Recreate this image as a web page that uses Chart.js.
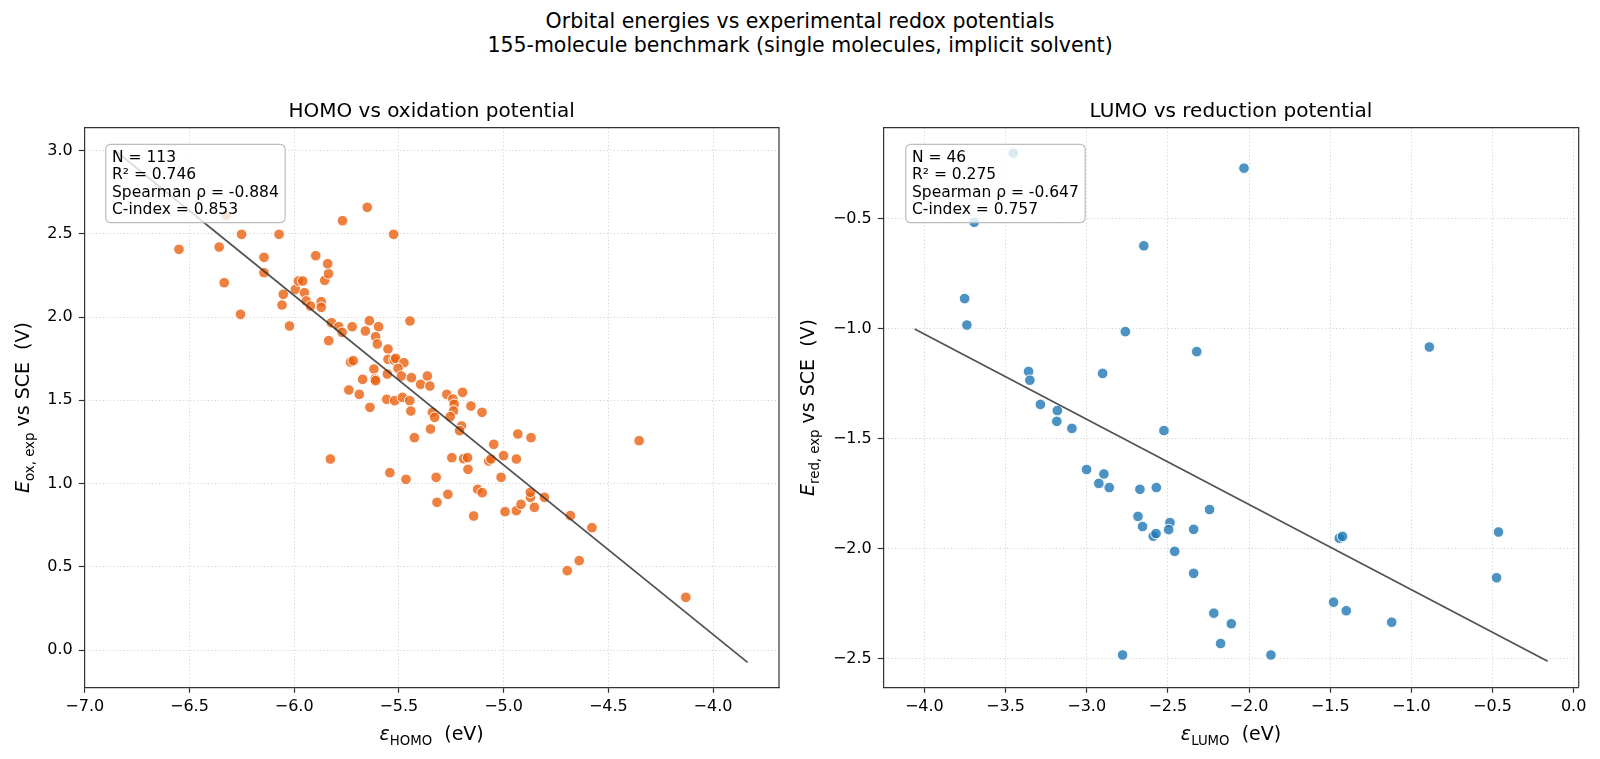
<!DOCTYPE html>
<html><head><meta charset="utf-8">
<script src="https://cdn.jsdelivr.net/npm/chart.js@4.4.1/dist/chart.umd.min.js"></script>
<style>
html,body{margin:0;padding:0;background:#fff;}
#wrap{position:relative;width:1600px;height:759px;overflow:hidden;font-family:"DejaVu Sans",sans-serif;background:#fff;}
.sup{position:absolute;left:0;width:1600px;text-align:center;font-size:20.5px;color:#000;line-height:24px;white-space:nowrap;}
canvas{position:absolute;top:0;}
</style></head><body>
<div id="wrap">
<div class="sup" style="top:8.5px">Orbital energies vs experimental redox potentials</div>
<div class="sup" style="top:33px">155-molecule benchmark (single molecules, implicit solvent)</div>
<canvas id="c1" width="800" height="759" style="left:0;width:800px;height:759px"></canvas>
<canvas id="c2" width="800" height="759" style="left:800px;width:800px;height:759px"></canvas>
</div>
<script>
// ---- data ----
const HOMO_E = [-6.550,-6.358,-6.334,-6.325,-6.251,-6.256,-6.072,-6.144,-6.144,-5.897,-6.052,-5.994,-5.980,-5.959,-5.951,-5.854,-5.836,-5.840,-5.769,-5.651,-5.525,
-6.058,-5.942,-5.922,-5.871,-5.871,-6.022,-5.822,-5.787,-5.771,-5.723,
-5.835,-5.641,-5.660,-5.597,-5.611,-5.603,-5.447,-5.552,-5.731,-5.718,
-5.619,-5.614,-5.611,-5.673,-5.739,-5.689,-5.638,-5.552,-5.523,-5.515,
-5.476,-5.504,-5.488,-5.555,-5.440,-5.558,-5.520,-5.483,-5.448,-5.443,
-5.426,-5.396,-5.364,-5.352,-5.340,-5.329,-5.349,-5.271,-5.242,-5.236,
-5.239,-5.255,-5.196,-5.156,-5.103,-5.201,-5.210,-5.047,-4.932,-4.869,
-5.827,-5.543,-5.466,-5.322,-5.247,-5.191,-5.172,-5.170,-5.071,-5.060,
-5.000,-4.939,-5.012,-5.124,-5.102,-5.266,-5.318,-5.143,-4.993,-4.939,
-4.917,-4.853,-4.872,-4.872,-4.805,-4.681,
-4.353,-4.578,-4.639,-4.696,-4.130];
const OX_E = [2.406,2.420,2.206,2.610,2.496,2.016,2.496,2.358,2.266,2.368,2.136,2.166,2.216,2.216,2.146,2.220,2.260,2.320,2.578,2.658,2.496,
2.072,2.096,2.066,2.092,2.058,1.946,1.966,1.942,1.908,1.942,
1.858,1.978,1.916,1.942,1.882,1.838,1.976,1.808,1.730,1.738,
1.688,1.628,1.618,1.626,1.562,1.536,1.458,1.746,1.742,1.752,
1.726,1.692,1.646,1.658,1.636,1.506,1.498,1.518,1.498,1.436,
1.276,1.596,1.646,1.586,1.428,1.398,1.328,1.536,1.508,1.476,
1.436,1.402,1.548,1.466,1.428,1.346,1.318,1.236,1.298,1.276,
1.148,1.066,1.026,1.038,1.156,1.150,1.156,1.086,1.136,1.148,
1.168,1.148,1.038,0.966,0.946,0.936,0.888,0.806,0.832,0.838,
0.876,0.858,0.918,0.948,0.918,0.808,
1.258,0.736,0.538,0.478,0.318];
const LUMO_E = [-3.453,-3.693,-2.648,-3.752,-3.738,-2.762,-2.322,-3.358,-3.350,-2.902,-3.285,-3.181,-3.184,-3.091,
-2.524,-3.001,-2.894,-2.925,-2.861,-2.672,-2.571,-2.684,-2.656,-2.590,-2.573,-2.487,-2.495,-2.341,-2.458,-2.341,-2.779,
-2.031,-0.889,-2.243,-1.444,-1.424,-0.463,-0.475,-2.217,-2.109,-2.175,-1.865,-1.479,-1.401,-1.121];
const RED_E = [-0.201,-0.515,-0.622,-0.862,-0.982,-1.012,-1.103,-1.193,-1.233,-1.202,-1.343,-1.371,-1.420,-1.452,
-1.462,-1.639,-1.659,-1.702,-1.721,-1.729,-1.721,-1.852,-1.898,-1.942,-1.930,-1.880,-1.912,-1.911,-2.011,-2.111,-2.482,
-0.269,-1.082,-1.821,-1.951,-1.943,-1.923,-2.131,-2.292,-2.340,-2.430,-2.482,-2.242,-2.281,-2.333];
const FIT_OX_X = [-6.85, -3.835];
const FIT_OX_Y = [2.993, -0.072];
const FIT_RED_X = [-4.06, -0.16];
const FIT_RED_Y = [-1.0, -2.511];
const TICKS_HOMO = [-7.0,-6.5,-6.0,-5.5,-5.0,-4.5,-4.0];
const TICKS_OX = [0.0,0.5,1.0,1.5,2.0,2.5,3.0];
const TICKS_LUMO = [-4.0,-3.5,-3.0,-2.5,-2.0,-1.5,-1.0,-0.5,0.0];
const TICKS_RED = [-2.5,-2.0,-1.5,-1.0,-0.5];
const STATS_OX = ['N = 113','R\u00B2 = 0.746','Spearman \u03C1 = -0.884','C-index = 0.853'];
const STATS_RED = ['N = 46','R\u00B2 = 0.275','Spearman \u03C1 = -0.647','C-index = 0.757'];
const TITLE_OX = 'HOMO vs oxidation potential';
const TITLE_RED = 'LUMO vs reduction potential';

// ---- rendering ----
const FAM = '"DejaVu Sans", sans-serif';
Chart.defaults.color = '#000';
Chart.defaults.font.family = FAM;

function fmt(v){ const s = (Math.abs(v) < 1e-9 ? 0 : v).toFixed(1); return s.replace('-', '\u2212'); }
function pairs(xs, ys){ return xs.map((x,i)=>({x:x, y:ys[i]})); }

function drawRich(ctx, segs, x, y, rot){
  ctx.save();
  ctx.translate(x, y);
  if (rot) ctx.rotate(rot);
  let total = 0;
  segs.forEach(s => { ctx.font = s.font; s.w = ctx.measureText(s.text).width; total += s.w; });
  let cx = -total/2;
  ctx.textBaseline = 'alphabetic'; ctx.textAlign = 'left'; ctx.fillStyle = '#000';
  segs.forEach(s => { ctx.font = s.font; ctx.fillText(s.text, cx, s.dy || 0); cx += s.w; });
  ctx.restore();
}

function makeChart(id, o){
  const ctx = document.getElementById(id).getContext('2d');
  const decor = {
    id: 'decor',
    afterDraw(chart){
      const c = chart.ctx, a = chart.chartArea;
      c.save();
      // top & right spines
      c.strokeStyle = '#333'; c.lineWidth = 1.2;
      c.beginPath();
      c.moveTo(a.left, a.top); c.lineTo(a.right, a.top); c.lineTo(a.right, a.bottom);
      c.stroke();
      // stats box
      const bx = a.left + o.boxDx, by = a.top + 16.6, bw = 179.5, bh = 78.4, r = 5;
      c.beginPath();
      c.moveTo(bx + r, by); c.lineTo(bx + bw - r, by); c.arcTo(bx + bw, by, bx + bw, by + r, r);
      c.lineTo(bx + bw, by + bh - r); c.arcTo(bx + bw, by + bh, bx + bw - r, by + bh, r);
      c.lineTo(bx + r, by + bh); c.arcTo(bx, by + bh, bx, by + bh - r, r);
      c.lineTo(bx, by + r); c.arcTo(bx, by, bx + r, by, r);
      c.closePath();
      c.fillStyle = 'rgba(255,255,255,0.8)'; c.fill();
      c.strokeStyle = '#bdbdbd'; c.lineWidth = 1.2; c.stroke();
      c.fillStyle = '#000'; c.font = '15.5px ' + FAM; c.textAlign = 'left'; c.textBaseline = 'alphabetic';
      o.stats.forEach((t, i) => c.fillText(t, bx + 6.3, by + 18 + i * 17.1));
      // subplot title
      c.font = '20px ' + FAM; c.textAlign = 'center';
      c.fillText(o.title, (a.left + a.right) / 2, 116.5);
      c.restore();
      // axis labels
      const big = '19px ' + FAM, bigIt = 'italic 19px ' + FAM, sub = '13.3px ' + FAM;
      drawRich(c, [
        {text: '\u03B5', font: bigIt},
        {text: o.xsub, font: sub, dy: 4.5},
        {text: '  (eV)', font: big}
      ], (a.left + a.right) / 2, 740);
      drawRich(c, [
        {text: 'E', font: bigIt},
        {text: o.ysub, font: sub, dy: 4.5},
        {text: ' vs SCE  (V)', font: big}
      ], o.ylabX, (a.top + a.bottom) / 2, -Math.PI / 2);
    }
  };
  const gridCommon = {color: 'rgba(0,0,0,0.2)', lineWidth: 0.8, tickLength: 5.5, tickColor: '#333', tickWidth: 1.2, tickBorderDash: []};
  const borderCommon = {display: true, color: '#333', width: 1.2, dash: [1.3, 2.2]};
  return new Chart(ctx, {
    type: 'scatter',
    data: {
      datasets: [
        {
          data: pairs(o.fitX, o.fitY), showLine: true, borderColor: 'rgba(50,50,50,0.85)', borderWidth: 1.7,
          pointRadius: 0, pointHoverRadius: 0, fill: false, order: 0
        },
        {
          data: pairs(o.xs, o.ys), backgroundColor: o.color, borderColor: 'rgba(255,255,255,0.95)',
          borderWidth: 1, pointRadius: 5.3, pointHoverRadius: 5.3, order: 1
        }
      ]
    },
    options: {
      responsive: false, maintainAspectRatio: false, animation: false,
      events: [],
      layout: {padding: {left: 0, top: 127.7, right: o.padRight, bottom: 0}},
      plugins: {legend: {display: false}, tooltip: {enabled: false}, title: {display: false}},
      scales: {
        x: {
          type: 'linear', position: 'bottom', min: o.xmin, max: o.xmax,
          afterBuildTicks: s => { s.ticks = o.xticks.map(v => ({value: v})); },
          afterFit: s => { s.height = 759 - 687.3; },
          ticks: {callback: v => fmt(v), font: {size: 16, family: FAM}, color: '#000', padding: 4, maxRotation: 0, autoSkip: false},
          grid: gridCommon, border: borderCommon
        },
        y: {
          type: 'linear', position: 'left', min: o.ymin, max: o.ymax,
          afterBuildTicks: s => { s.ticks = o.yticks.map(v => ({value: v})); },
          afterFit: s => { s.width = o.yWidth; },
          ticks: {callback: v => fmt(v), font: {size: 16, family: FAM}, color: '#000', padding: 6, autoSkip: false},
          grid: gridCommon, border: borderCommon
        }
      }
    },
    plugins: [decor]
  });
}

makeChart('c1', {
  xs: HOMO_E, ys: OX_E, fitX: FIT_OX_X, fitY: FIT_OX_Y,
  xticks: TICKS_HOMO, yticks: TICKS_OX, xmin: -7.002, xmax: -3.685, ymin: -0.222, ymax: 3.136,
  color: 'rgba(234,96,16,0.8)', stats: STATS_OX, title: TITLE_OX, xsub: 'HOMO', ysub: 'ox, exp',
  yWidth: 84.3, padRight: 21, boxDx: 21.4, ylabX: 29
});
makeChart('c2', {
  xs: LUMO_E, ys: RED_E, fitX: FIT_RED_X, fitY: FIT_RED_Y,
  xticks: TICKS_LUMO, yticks: TICKS_RED, xmin: -4.253, xmax: 0.031, ymin: -2.629, ymax: -0.085,
  color: 'rgba(31,119,180,0.8)', stats: STATS_RED, title: TITLE_RED, xsub: 'LUMO', ysub: 'red, exp',
  yWidth: 83.3, padRight: 21.3, boxDx: 22.4, ylabX: 14
});
</script>
</body></html>
